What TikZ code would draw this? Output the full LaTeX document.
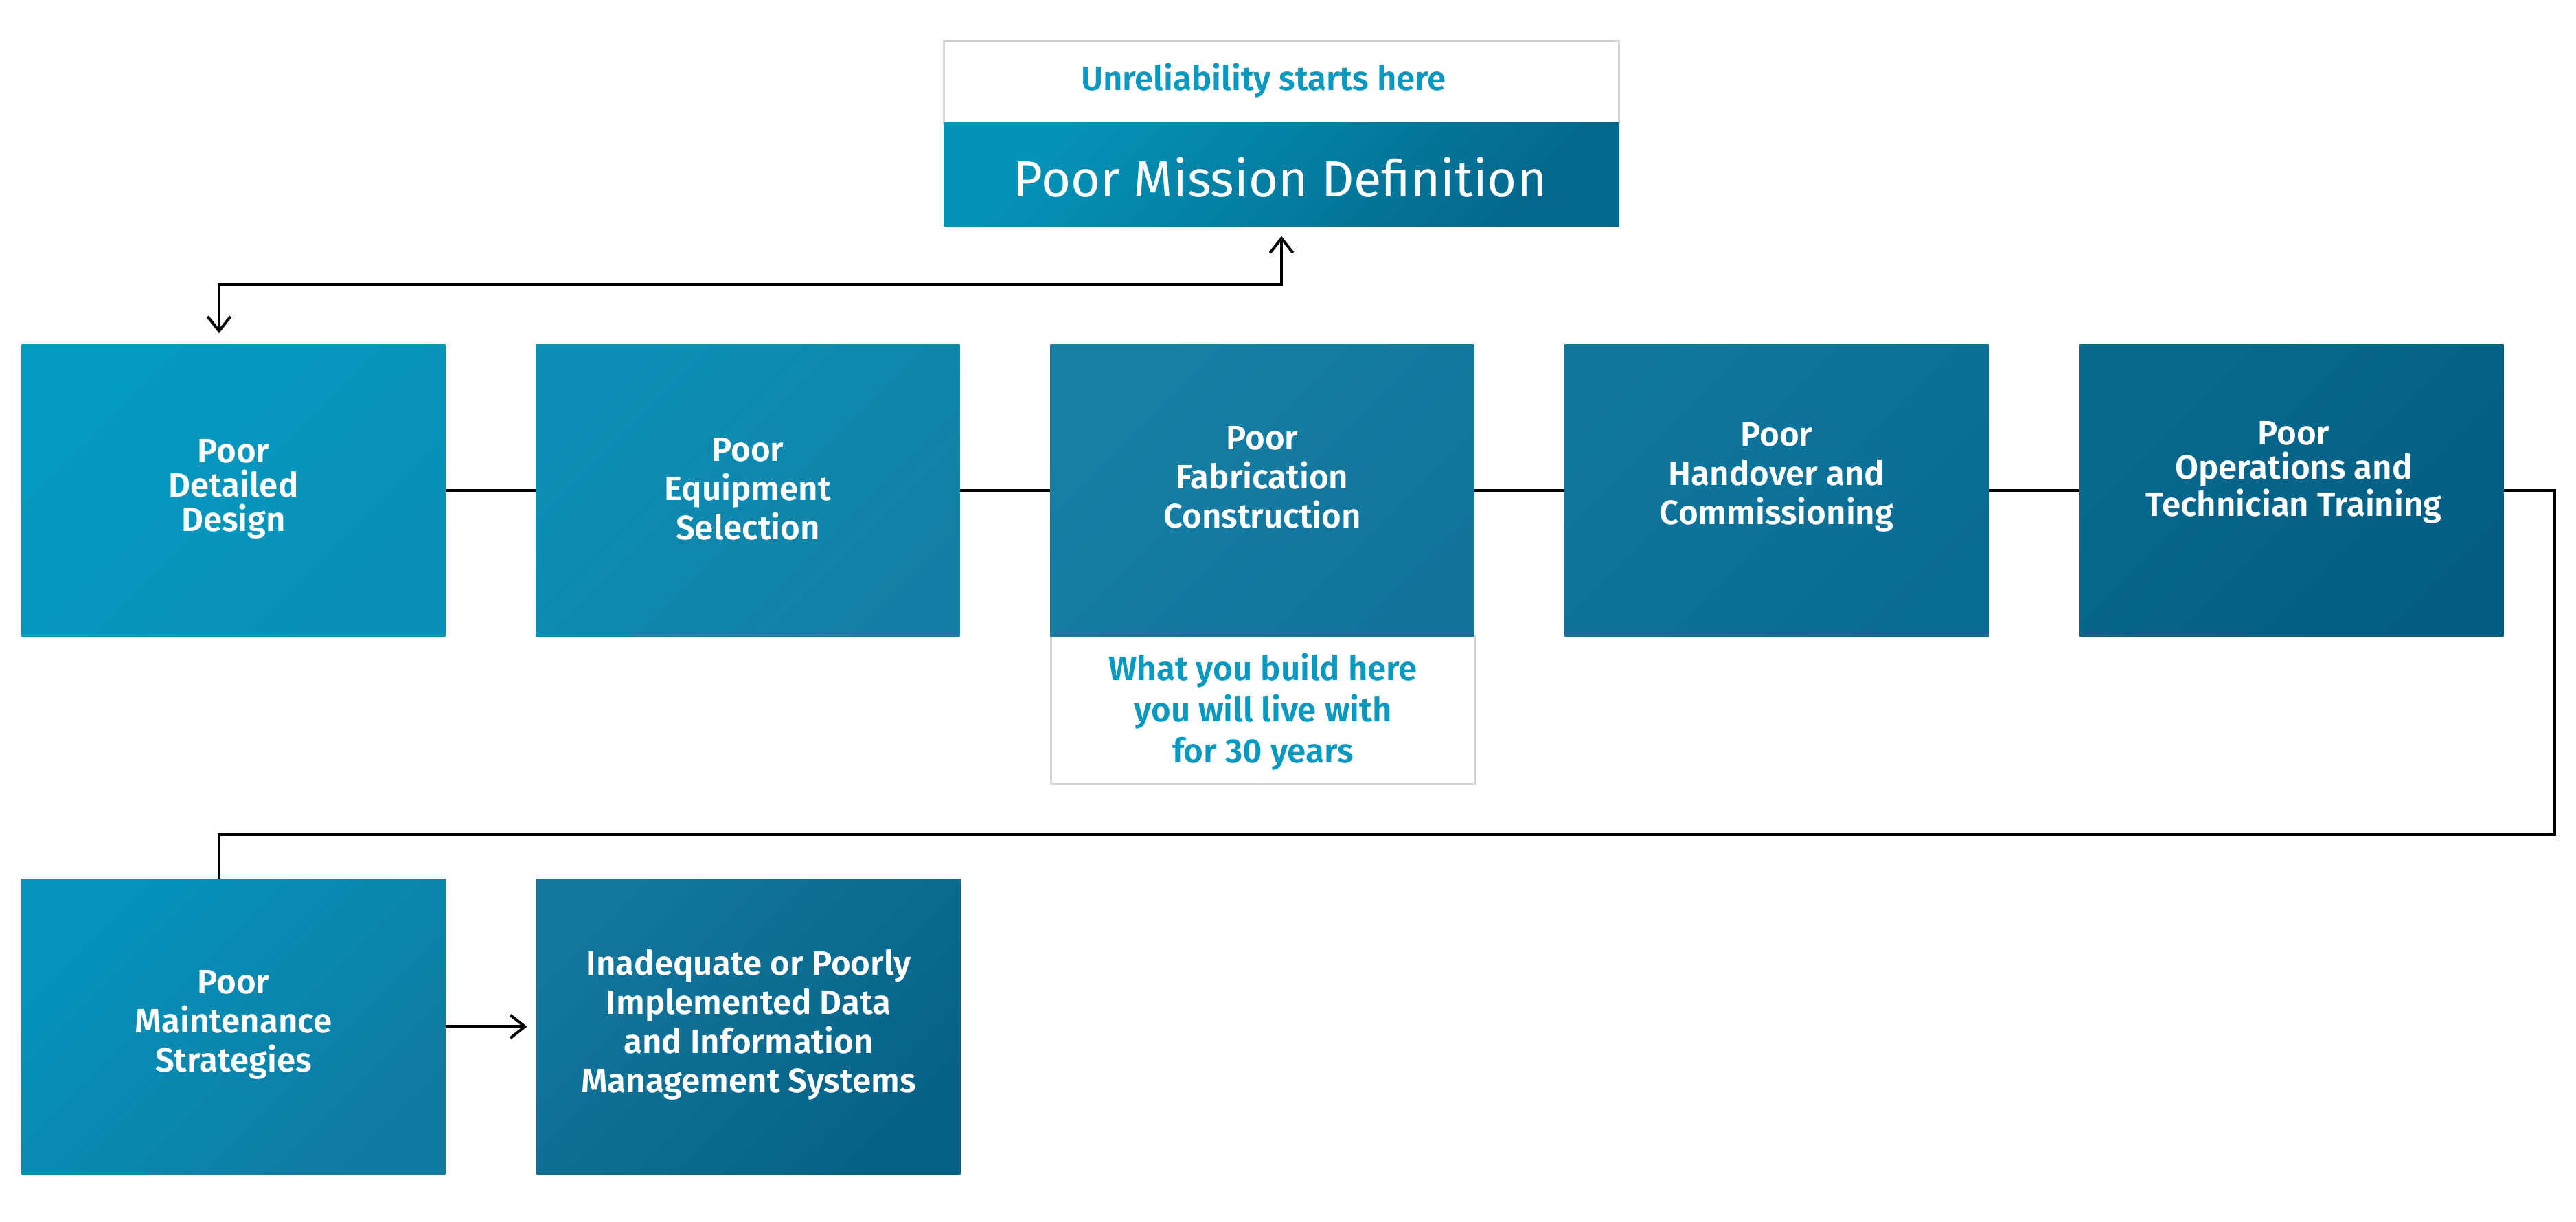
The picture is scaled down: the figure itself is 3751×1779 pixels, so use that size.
\documentclass[tikz,border=0pt]{standalone}
\usepackage{fontspec}
\setmainfont{Fira Sans}[BoldFont={Fira Sans SemiBold}]
\usetikzlibrary{arrows.meta}
\definecolor{tealtxt}{HTML}{0898C0}
\definecolor{edgegray}{HTML}{D4D4D4}
\definecolor{gA}{HTML}{039EC6}
\definecolor{gB}{HTML}{0B8DB3}
\definecolor{gC}{HTML}{0A95BD}
\definecolor{gD}{HTML}{157AA0}
\definecolor{gE}{HTML}{1884AA}
\definecolor{gF}{HTML}{10709A}
\definecolor{gG}{HTML}{137BA1}
\definecolor{gH}{HTML}{076890}
\definecolor{gI}{HTML}{0B6D93}
\definecolor{gJ}{HTML}{03597E}
\definecolor{gK}{HTML}{05A2C7}
\definecolor{gL}{HTML}{035A7E}
\definecolor{gM}{HTML}{009DC6}
\definecolor{gN}{HTML}{147299}
\definecolor{gO}{HTML}{177FA5}
\definecolor{gP}{HTML}{025A80}
\begin{document}
\begin{tikzpicture}[x=0.01cm,y=-0.01cm,
  grad/.style 2 args={top color={#1!80!#2}, bottom color={#2!80!#1}, shading angle=45},
  box/.style={rectangle, inner sep=0pt, minimum width=6.17cm, minimum height=4.24cm},
  lowbox/.style={rectangle, inner sep=0pt, minimum width=6.17cm, minimum height=4.29cm},
  txt/.style={text=white, align=center, inner sep=0pt, font=\bfseries\fontsize{14}{16.2}\selectfont},
  txttight/.style={text=white, align=center, inner sep=0pt, font=\bfseries\fontsize{14}{14.2}\selectfont},
  note/.style={rectangle, draw=edgegray, line width=0.85pt, fill=white, inner sep=0pt},
  conn/.style={draw=black, line width=1.15pt},
  arr/.tip={Straight Barb[length=6pt, width=9.5pt, line width=1.15pt]}
]
\useasboundingbox (0,0) rectangle (3751,1779);

% top box
\node[note, minimum width=9.82cm, minimum height=1.19cm] (hdr) at (1866,119.5) {};
\node[text=tealtxt, font=\bfseries\fontsize{14}{16}\selectfont] (hdrt) at (1840,117) {Unreliability starts here};
\node[rectangle, inner sep=0pt, minimum width=9.82cm, minimum height=1.50cm, grad={gK}{gL}] (mission) at (1866,254) {};
\node[text=white, font=\fontsize{21}{24}\selectfont] (missiont) at (1864,258) {Poor Mission Definition};

% note under fabrication
\node[note, minimum width=6.16cm, minimum height=2.14cm] (note) at (1839,1034) {};
\node[text=tealtxt, align=center, font=\bfseries\fontsize{14}{17}\selectfont] (notet) at (1839,1036) {What you build here\\you will live with\\for 30 years};

% row 1
\node[box, grad={gA}{gB}] (b1) at (340,714) {};
\node[box, grad={gC}{gD}] (b2) at (1089,714) {};
\node[box, grad={gE}{gF}] (b3) at (1838,714) {};
\node[box, grad={gG}{gH}] (b4) at (2587,714) {};
\node[box, grad={gI}{gJ}] (b5) at (3337,714) {};

\node[txttight] (b1t) at (340,712) {Poor\\Detailed\\Design};
\node[txt] (b2t) at (1089,712) {Poor\\Equipment\\Selection};
\node[txt] (b3t) at (1838,695) {Poor\\Fabrication\\Construction};
\node[txt] (b4t) at (2587,695) {Poor\\Handover and\\Commissioning};
\node[txttight] (b5t) at (3340,688) {Poor\\Operations and\\Technician Training};

% row 2
\node[lowbox, grad={gM}{gN}] (m1) at (340,1494.5) {};
\node[lowbox, grad={gO}{gP}] (m2) at (1090,1494.5) {};
\node[txt] (m1t) at (340,1492) {Poor\\Maintenance\\Strategies};
\node[txt] (m2t) at (1090,1492) {Inadequate or Poorly\\Implemented Data\\and Information\\Management Systems};

% connectors
\coordinate (c1) at (319,414);
\coordinate (c2) at (3720,714);
\coordinate (c3) at (3720,1215);
\coordinate (c4) at (319,1215);
\draw[conn, arr-arr, shorten <=0.14cm, shorten >=0.16cm] (mission.south) |- (c1) -- (c1 |- b1.north);
\draw[conn] (b1.east) -- (b2.west);
\draw[conn] (b2.east) -- (b3.west);
\draw[conn] (b3.east) -- (b4.west);
\draw[conn] (b4.east) -- (b5.west);
\draw[conn] (b5.east) -- (c2) -- (c3) -- (c4) -- (c4 |- m1.north);
\draw[conn, -arr, shorten >=0.13cm] (m1.east) -- (m2.west);
\end{tikzpicture}
\end{document}
